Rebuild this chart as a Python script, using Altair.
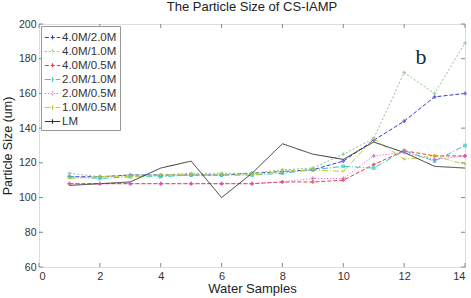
import altair as alt
import pandas as pd

samples = list(range(1, 15))
series_names = ["4.0M/2.0M", "4.0M/1.0M", "4.0M/0.5M", "2.0M/1.0M", "2.0M/0.5M", "1.0M/0.5M", "LM"]
s_40_20 = [112, 112, 113, 113, 113, 113, 114, 115, 116, 121, 133, 144, 158, 160]
s_40_10 = [114, 112, 113, 113, 114, 114, 114, 116, 117, 125, 134, 172, 160, 189]
s_40_05 = [108, 108, 108, 108, 108, 108, 108, 109, 109, 110, 119, 127, 124, 124]
s_20_10 = [112, 111, 112, 112, 113, 113, 113, 114, 116, 118, 117, 127, 121, 130]
s_20_05 = [108, 108, 108, 108, 108, 108, 108, 109, 111, 111, 124, 126, 122, 124]
s_10_05 = [111, 112, 112, 113, 113, 113, 113, 115, 116, 115, 134, 122, 124, 119]
s_lm = [107, 108, 109, 117, 121, 100, 114, 131, 125, 122, 132, 126, 118, 117]
all_series = [s_40_20, s_40_10, s_40_05, s_20_10, s_20_05, s_10_05, s_lm]

colors = ["#3a3ad0", "#8cc48c", "#f03a3a", "#30c8c8", "#d050d0", "#cccc20", "#333333"]
dashes = [[4, 2], [2, 2], [4, 2], [6, 2, 1, 2], [1, 2], [6, 2, 1, 2], [1, 0]]
widths = [1, 1, 1, 1, 1, 1, 2]
shapes = ["cross", "cross", "cross", "square", "cross", "triangle-down", "circle"]

x_ticks = [0, 2, 4, 6, 8, 10, 12, 14]
y_ticks = [60, 80, 100, 120, 140, 160, 180, 200]

rows = []
for name, vals in zip(series_names, all_series):
    for s, v in zip(samples, vals):
        rows.append({"sample": s, "size": v, "series": name})
df = pd.DataFrame(rows)

W, H = 426, 243
xs = alt.Scale(domain=[0, 14], nice=False)
ys = alt.Scale(domain=[60, 200], nice=False)

x_axis = alt.Axis(values=x_ticks, title="Water Samples", labelFontSize=11, titleFontSize=13,
                  labelPadding=3, titlePadding=1, domain=False, ticks=False, grid=False,
                  labelColor="#333", titleColor="#222", labelFont="Liberation Sans",
                  titleFont="Liberation Sans", titleFontWeight="normal", labelOverlap=False)
y_axis = alt.Axis(values=y_ticks, title="Particle Size (um)", labelFontSize=10.5, titleFontSize=12.5,
                  labelPadding=3, titlePadding=4, domain=False, ticks=False, grid=False,
                  labelColor="#333", titleColor="#222", labelFont="Liberation Sans",
                  titleFont="Liberation Sans", titleFontWeight="normal", labelOverlap=False)

color_enc = alt.Color("series:N", scale=alt.Scale(domain=series_names, range=colors),
                      sort=series_names,
                      legend=alt.Legend(title=None, orient="top-left", offset=2, padding=3,
                                        strokeColor="#999", fillColor="white",
                                        symbolType="M-1,0H1M0,-0.3V0.3",
                                        symbolSize=240, symbolStrokeWidth=1.2,
                                        labelFontSize=11.5, labelFont="Liberation Sans",
                                        labelFontWeight="normal",
                                        labelColor="#333", rowPadding=0, labelOffset=1,
                                        symbolOffset=0))
dash_enc = alt.StrokeDash("series:N", scale=alt.Scale(domain=series_names, range=dashes),
                          sort=series_names, legend=alt.Legend(title=None))

lines = alt.Chart(df).mark_line().encode(
    x=alt.X("sample:Q", scale=xs, axis=x_axis),
    y=alt.Y("size:Q", scale=ys, axis=y_axis),
    color=color_enc,
    strokeDash=dash_enc,
    strokeWidth=alt.StrokeWidth("series:N", scale=alt.Scale(domain=series_names, range=widths), legend=None),
    order="sample:Q",
)

points = alt.Chart(df[df.series != "LM"]).mark_point(filled=True, size=14).encode(
    x=alt.X("sample:Q", scale=xs, axis=x_axis),
    y=alt.Y("size:Q", scale=ys, axis=y_axis),
    color=alt.Color("series:N", scale=alt.Scale(domain=series_names, range=colors), legend=None),
    shape=alt.Shape("series:N", scale=alt.Scale(domain=series_names, range=shapes), legend=None),
)

xt = pd.DataFrame({"t": x_ticks})
yt = pd.DataFrame({"t": y_ticks})
tick_col = "#888"
xb = alt.Chart(xt).mark_rule(color=tick_col).encode(x=alt.X("t:Q", scale=xs, axis=x_axis), y=alt.value(H), y2=alt.value(H - 4))
xtop = alt.Chart(xt).mark_rule(color=tick_col).encode(x=alt.X("t:Q", scale=xs, axis=x_axis), y=alt.value(0), y2=alt.value(4))
yl = alt.Chart(yt).mark_rule(color=tick_col).encode(y=alt.Y("t:Q", scale=ys, axis=y_axis), x=alt.value(0), x2=alt.value(4))
yr = alt.Chart(yt).mark_rule(color=tick_col).encode(y=alt.Y("t:Q", scale=ys, axis=y_axis), x=alt.value(W), x2=alt.value(W - 4))

ann = alt.Chart(pd.DataFrame({"x": [12.55], "y": [181], "t": ["b"]})).mark_text(
    font="Liberation Serif", fontSize=22, color="#10303a").encode(
    x=alt.X("x:Q", scale=xs, axis=x_axis), y=alt.Y("y:Q", scale=ys, axis=y_axis), text="t:N")

chart = alt.layer(lines, points, xb, xtop, yl, yr, ann).resolve_legend(
    color="independent", shape="independent", strokeDash="independent"
).properties(
    width=W, height=H,
    title=alt.TitleParams("The Particle Size of CS-IAMP", fontSize=13, font="Liberation Sans",
                          fontWeight="normal", color="#222", offset=5),
    autosize=alt.AutoSizeParams(type="none"),
    padding={"left": 39, "top": 24, "right": 6, "bottom": 31},
).configure_view(stroke="#999", strokeWidth=1.5).configure(background="white")

chart.save("out.html", embed_options={"renderer": "svg", "actions": False})
